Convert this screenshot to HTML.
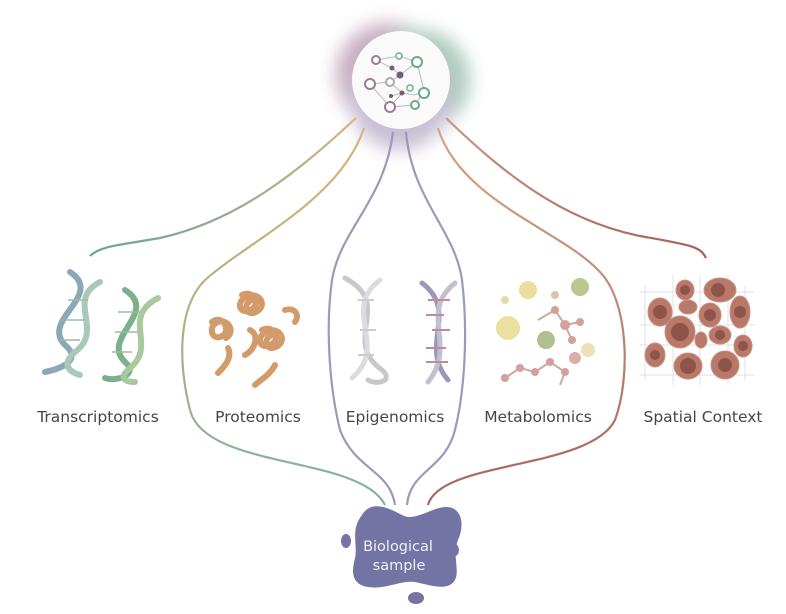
<!DOCTYPE html>
<html><head><meta charset="utf-8"><style>
html,body{margin:0;padding:0;background:#fff;width:786px;height:614px;overflow:hidden}
svg{display:block}
text{font-family:"DejaVu Sans","Liberation Sans",sans-serif}
</style></head><body>
<svg width="786" height="614" viewBox="0 0 786 614">
<defs>
<filter id="blur" x="-50%" y="-50%" width="200%" height="200%"><feGaussianBlur stdDeviation="9"/></filter>
<linearGradient id="gT" x1="1" y1="0" x2="0" y2="1"><stop offset="0" stop-color="#d9b583"/><stop offset="1" stop-color="#6aa39a"/></linearGradient>
<linearGradient id="gP" x1="0" y1="0" x2="0" y2="1"><stop offset="0" stop-color="#dcb37c"/><stop offset="0.5" stop-color="#b4b080"/><stop offset="1" stop-color="#7fb3a3"/></linearGradient>
<linearGradient id="gM" x1="0" y1="0" x2="0" y2="1"><stop offset="0" stop-color="#d4a884"/><stop offset="1" stop-color="#a8645e"/></linearGradient>
<linearGradient id="gS" x1="0" y1="0" x2="1" y2="1"><stop offset="0" stop-color="#c99a80"/><stop offset="1" stop-color="#a65e58"/></linearGradient>
</defs>

<!-- glow -->
<g filter="url(#blur)" opacity="0.55">
<circle cx="388" cy="75" r="52" fill="#9a6a8c"/>
<circle cx="420" cy="80" r="50" fill="#6a9e88"/>
<circle cx="400" cy="100" r="50" fill="#9a8ab0"/>
</g>

<!-- connectors -->
<g fill="none" stroke-width="2.2">
<path d="M356,118 C300,170 240,220 160,238 C120,245 100,246 90,256" stroke="url(#gT)"/>
<path d="M364,128 C340,200 250,240 205,280 C175,310 180,370 190,410 C205,470 360,455 385,505" stroke="url(#gP)"/>
<path d="M393,132 C385,200 340,230 332,280 C325,330 330,390 340,430 C355,470 390,470 395,505" stroke="#9c9ab8"/>
<path d="M406,132 C412,200 455,230 462,280 C468,330 465,390 455,430 C445,470 410,470 407,505" stroke="#9c9ab8"/>
<path d="M438,128 C460,200 560,230 598,270 C630,300 630,380 615,420 C590,470 440,460 428,505" stroke="url(#gM)"/>
<path d="M446,118 C500,170 560,220 640,236 C690,245 700,246 706,258" stroke="url(#gS)"/>
</g>

<!-- central circle -->
<circle cx="401" cy="80" r="49" fill="#fafafa"/>
<g stroke="#bbb" stroke-width="1" fill="none">
<path d="M376,60 L392,68 L400,75 L417,62 L399,56 L376,60 M370,84 L390,82 L400,75 M390,82 L402,93 L415,95 L424,91 L417,62 M402,93 L390,107 L370,84 M390,107 L415,105 L424,91 M391,96 L402,93"/>
</g>
<g stroke-width="2" fill="#fff">
<circle cx="376" cy="60" r="4" stroke="#9b7a98"/>
<circle cx="370" cy="84" r="5" stroke="#9b7a98"/>
<circle cx="390" cy="107" r="5" stroke="#9b7a98"/>
<circle cx="417" cy="62" r="5" stroke="#6aaa88"/>
<circle cx="424" cy="93" r="5" stroke="#6aaa88"/>
<circle cx="415" cy="105" r="4" stroke="#6aaa88"/>
<circle cx="399" cy="56" r="3" stroke="#8cc0a0"/>
<circle cx="390" cy="82" r="4" stroke="#aaa"/>
<circle cx="410" cy="88" r="3" stroke="#8cc0a0"/>
</g>
<g fill="#7a5a7a"><circle cx="392" cy="68" r="2.5"/><circle cx="400" cy="75" r="3.5"/><circle cx="402" cy="93" r="2.5"/><circle cx="391" cy="96" r="2"/></g>

<!-- Transcriptomics DNA -->
<g fill="none" stroke-width="6" stroke-linecap="round">
<path d="M70,272 C105,295 40,320 65,345 C85,362 55,370 45,372" stroke="#8aa8b8"/>
<path d="M100,282 C65,300 105,330 75,352 C60,365 70,372 80,375" stroke="#a8c8b8"/>
<path d="M125,290 C160,312 100,338 125,362 C140,375 115,382 105,378" stroke="#7bb08a"/>
<path d="M158,298 C120,318 158,345 130,368 C118,378 125,382 135,382" stroke="#a8c8a0"/>
</g>
<g stroke="#9fb8a8" stroke-width="1.5"><path d="M68,300 L88,300 M62,320 L84,320 M60,340 L80,340 M118,312 L140,312 M115,332 L138,332 M112,352 L132,352"/></g>

<!-- Proteomics -->
<g fill="none" stroke="#d39a6a" stroke-width="6" stroke-linecap="round">
<path d="M212,322 c10,-8 20,8 10,14 c-10,6 -15,-10 -4,-14 c10,-4 18,10 8,16 M228,348 c5,10 -5,20 -10,25"/>
<path d="M242,295 c12,-6 20,10 8,15 c-12,5 -14,-10 -2,-14 c12,-4 20,10 8,16 c-10,5 -14,-8 -4,-12 M250,330 c10,5 5,20 -5,25"/>
<path d="M262,330 c12,-6 20,10 8,15 c-12,5 -14,-10 -2,-14 c12,-4 20,10 8,16 c-10,5 -14,-8 -4,-12 M275,365 c-5,10 -15,15 -20,20"/>
<path d="M285,310 c10,-3 15,5 10,12"/>
</g>

<!-- Epigenomics -->
<g fill="none" stroke-width="5" stroke-linecap="round">
<path d="M345,278 C395,305 340,340 382,370 C395,382 375,385 368,380" stroke="#c8c8cc"/>
<path d="M380,280 C340,310 390,345 352,378" stroke="#dcdce0"/>
<path d="M422,283 C460,312 418,345 448,380" stroke="#9a98b8"/>
<path d="M455,283 C418,312 458,345 428,382" stroke="#c0c0d0"/>
</g>
<g stroke-width="2"><path d="M428,300 L450,300 M426,315 L444,315 M432,330 L450,330 M426,348 L446,348 M426,362 L448,362" stroke="#c08a9a"/><path d="M358,300 L374,300 M360,330 L376,330 M358,355 L374,355" stroke="#ccc"/></g>

<!-- Metabolomics -->
<g>
<circle cx="528" cy="290" r="9" fill="#ecdca0"/>
<circle cx="580" cy="287" r="9" fill="#b8c890"/>
<circle cx="508" cy="328" r="12" fill="#ece0a0"/>
<circle cx="546" cy="340" r="9" fill="#b0c090"/>
<circle cx="588" cy="350" r="7" fill="#ece0b8"/>
<circle cx="555" cy="295" r="4" fill="#dcc0b0"/>
<circle cx="505" cy="300" r="4" fill="#e8d8a8"/>
<g stroke="#d0a8a0" stroke-width="2" fill="none"><path d="M555,310 L565,325 L580,322 M565,325 L572,340 M538,320 L555,310 M505,378 L520,368 L535,372 L550,362 L565,372 L560,385"/></g>
<g fill="#d4a09a"><circle cx="555" cy="310" r="4"/><circle cx="565" cy="325" r="5"/><circle cx="580" cy="322" r="4"/><circle cx="572" cy="340" r="4"/><circle cx="505" cy="378" r="4"/><circle cx="520" cy="368" r="4"/><circle cx="535" cy="372" r="4"/><circle cx="550" cy="362" r="4"/><circle cx="565" cy="372" r="4"/><circle cx="575" cy="358" r="6" fill="#d8b0a8"/></g>
</g>

<!-- Spatial -->
<g stroke="#dde0e6" stroke-width="1"><path d="M645,285 L645,380 M673,275 L673,385 M700,275 L700,385 M728,275 L728,385 M745,285 L745,380 M640,292 L755,292 M640,325 L755,325 M640,345 L755,345 M640,375 L755,375"/></g>
<g fill="#b8786a" stroke="#c89080" stroke-width="1">
<ellipse cx="685" cy="290" rx="9" ry="10"/><ellipse cx="720" cy="290" rx="16" ry="12"/>
<ellipse cx="660" cy="312" rx="12" ry="14"/><ellipse cx="688" cy="307" rx="9" ry="7"/>
<ellipse cx="710" cy="315" rx="11" ry="12"/><ellipse cx="740" cy="312" rx="10" ry="16"/>
<ellipse cx="680" cy="332" rx="15" ry="16"/><ellipse cx="720" cy="335" rx="11" ry="9"/>
<ellipse cx="701" cy="340" rx="6" ry="8"/><ellipse cx="743" cy="346" rx="9" ry="11"/>
<ellipse cx="655" cy="355" rx="10" ry="12"/><ellipse cx="688" cy="366" rx="14" ry="13"/><ellipse cx="725" cy="365" rx="14" ry="14"/>
</g>
<g fill="#8e5448"><circle cx="685" cy="290" r="5"/><circle cx="718" cy="290" r="7"/><circle cx="660" cy="312" r="7"/><circle cx="710" cy="315" r="6"/><circle cx="740" cy="312" r="6"/><circle cx="680" cy="332" r="9"/><circle cx="720" cy="335" r="5"/><circle cx="743" cy="346" r="5"/><circle cx="655" cy="355" r="5"/><circle cx="688" cy="366" r="8"/><circle cx="725" cy="365" r="7"/></g>

<!-- labels -->
<g font-size="15.5" fill="#454545" text-anchor="middle">
<text x="98" y="422">Transcriptomics</text>
<text x="258" y="422">Proteomics</text>
<text x="395" y="422">Epigenomics</text>
<text x="538" y="422">Metabolomics</text>
<text x="703" y="422">Spatial Context</text>
</g>

<!-- blob -->
<path d="M362,515 C372,498 392,510 402,515 C415,522 430,508 445,507 C462,506 465,525 458,540 C452,555 460,570 455,580 C448,592 430,585 415,582 C400,580 385,590 368,587 C350,584 352,570 355,558 C358,545 350,530 362,515 Z" fill="#7474a4"/>
<ellipse cx="346" cy="541" rx="5" ry="7" fill="#7474a4"/>
<ellipse cx="455" cy="550" rx="4" ry="6" fill="#7474a4"/>
<ellipse cx="416" cy="598" rx="8" ry="6" fill="#7474a4"/>
<g font-size="14.5" fill="#f0f0f6" text-anchor="middle">
<text x="398" y="551">Biological</text>
<text x="399" y="570">sample</text>
</g>
</svg>
</body></html>
